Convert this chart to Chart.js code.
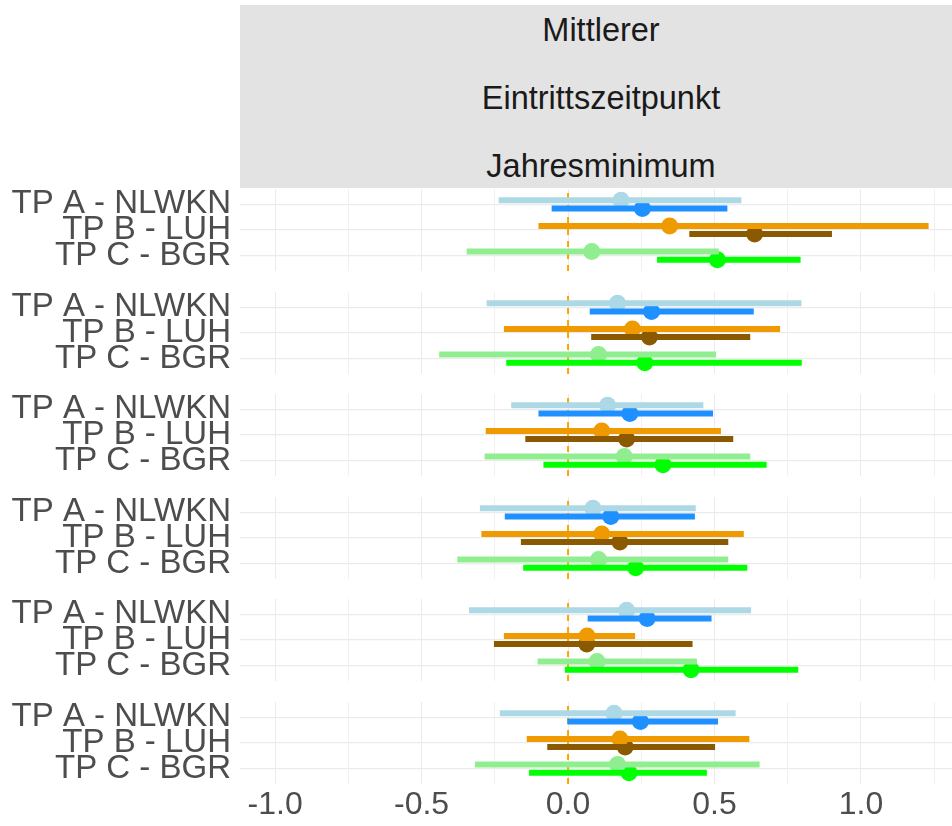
<!DOCTYPE html>
<html>
<head>
<meta charset="utf-8">
<script src="https://cdn.jsdelivr.net/npm/chart.js@4.4.1/dist/chart.umd.min.js"></script>
<style>
  html, body { margin: 0; padding: 0; width: 952px; height: 826px; overflow: hidden; background: #ffffff; }
  #strip { position: absolute; left: 240px; top: 5px; width: 722px; height: 183px; background: #e3e3e3;
           font-family: 'Liberation Sans', Arial, sans-serif; font-size: 32.5px; color: #1a1a1a; }
  .stripLine { position: absolute; left: 0; width: 100%; height: 40px; line-height: 40px; text-align: center; white-space: nowrap; }
  .panel { position: absolute; left: 0; width: 962px; }
</style>
</head>
<body>
<div id="strip"></div>
<script>
// Facet title (three lines)
const stripLines = ['Mittlerer', 'Eintrittszeitpunkt', 'Jahresminimum'];

// Categories on the y axis of every panel
const categories = ['TP A - NLWKN', 'TP B - LUH', 'TP C - BGR'];

// x axis: gridline positions and the labelled ticks
const xGridValues = [-1.0, -0.75, -0.5, -0.25, 0.0, 0.25, 0.5, 0.75, 1.0, 1.25];
const xTickValues = [-1.0, -0.5, 0.0, 0.5, 1.0];
const xTickLabels = ['-1.0', '-0.5', '0.0', '0.5', '1.0'];

// Reference value drawn as a dashed line
const referenceValue = 0;

// Estimates and interval bounds, one value per panel (top to bottom)
// TP A - NLWKN, first series
const estA1  = [0.181, 0.169, 0.135, 0.085, 0.200, 0.157];
const lowA1  = [-0.237, -0.278, -0.194, -0.301, -0.338, -0.233];
const highA1 = [0.592, 0.797, 0.462, 0.436, 0.625, 0.572];
// TP A - NLWKN, second series
const estA2  = [0.254, 0.285, 0.211, 0.146, 0.270, 0.247];
const lowA2  = [-0.056, 0.074, -0.101, -0.216, 0.067, -0.002];
const highA2 = [0.544, 0.634, 0.495, 0.433, 0.490, 0.512];
// TP B - LUH, first series
const estB1  = [0.347, 0.220, 0.115, 0.115, 0.065, 0.177];
const lowB1  = [-0.101, -0.219, -0.281, -0.296, -0.219, -0.141];
const highB1 = [1.231, 0.724, 0.522, 0.600, 0.229, 0.619];
// TP B - LUH, second series
const estB2  = [0.637, 0.278, 0.200, 0.177, 0.064, 0.195];
const lowB2  = [0.414, 0.079, -0.146, -0.161, -0.253, -0.071];
const highB2 = [0.901, 0.622, 0.564, 0.547, 0.425, 0.502];
// TP C - BGR, first series
const estC1  = [0.081, 0.104, 0.192, 0.104, 0.099, 0.169];
const lowC1  = [-0.346, -0.440, -0.285, -0.378, -0.104, -0.318];
const highC1 = [0.515, 0.505, 0.622, 0.547, 0.440, 0.654];
// TP C - BGR, second series
const estC2  = [0.510, 0.262, 0.324, 0.231, 0.420, 0.208];
const lowC2  = [0.304, -0.211, -0.084, -0.153, -0.011, -0.133];
const highC2 = [0.794, 0.798, 0.678, 0.612, 0.786, 0.474];

// Colours: first / second series per category
const firstColors  = ['#add8e6', '#ee9a00', '#90ee90'];
const secondColors = ['#1e90ff', '#8b5a00', '#00ff00'];

// ---- layout ----
const FONT = "'Liberation Sans', Arial, sans-serif";
const X_MIN = -1.12, X_MAX = 1.345;
const Y_MIN = 0.4, Y_MAX = 3.6;          // 3 categories with 0.6 padding
const DODGE = 0.16;                       // vertical offset of the two series
const PANEL_TOP = 189, PANEL_PITCH = 102.6, PANEL_H = 82, AXIS_H = 42;
const Y_AXIS_W = 240;

// strip text
const strip = document.getElementById('strip');
stripLines.forEach((t, i) => {
  const d = document.createElement('div');
  d.className = 'stripLine';
  d.style.top = (4.5 + i * 68) + 'px';
  d.textContent = t;
  strip.appendChild(d);
});

const seriesList = [
  { cat: 0, side: -1, est: estA1, low: lowA1, high: highA1, color: firstColors[0] },
  { cat: 0, side:  1, est: estA2, low: lowA2, high: highA2, color: secondColors[0] },
  { cat: 1, side: -1, est: estB1, low: lowB1, high: highB1, color: firstColors[1] },
  { cat: 1, side:  1, est: estB2, low: lowB2, high: highB2, color: secondColors[1] },
  { cat: 2, side: -1, est: estC1, low: lowC1, high: highC1, color: firstColors[2] },
  { cat: 2, side:  1, est: estC2, low: lowC2, high: highC2, color: secondColors[2] }
];

const nPanels = estA1.length;

for (let p = 0; p < nPanels; p++) {
  const isLast = p === nPanels - 1;
  const h = PANEL_H + (isLast ? AXIS_H : 0);
  const wrap = document.createElement('div');
  wrap.className = 'panel';
  wrap.style.top = (PANEL_TOP + p * PANEL_PITCH) + 'px';
  wrap.style.height = h + 'px';
  const canvas = document.createElement('canvas');
  canvas.width = 962; canvas.height = h;
  canvas.style.width = '962px'; canvas.style.height = h + 'px';
  wrap.appendChild(canvas);
  document.body.appendChild(wrap);

  const datasets = [];
  // dashed reference line
  datasets.push({
    data: [{ x: referenceValue, y: Y_MAX }, { x: referenceValue, y: Y_MIN }],
    showLine: true, borderColor: '#ffa500', borderWidth: 2, borderDash: [6, 6],
    pointRadius: 0, order: 3
  });
  seriesList.forEach(s => {
    const y = s.cat + 1 + s.side * DODGE;
    // interval
    datasets.push({
      data: [{ x: s.low[p], y: y }, { x: s.high[p], y: y }],
      showLine: true, borderColor: s.color, borderWidth: 6, borderCapStyle: 'butt',
      pointRadius: 0, order: 1
    });
    // estimate
    datasets.push({
      data: [{ x: s.est[p], y: y }],
      backgroundColor: s.color, borderWidth: 0, pointRadius: 8.5, pointHoverRadius: 8.5, order: 2
    });
  });

  new Chart(canvas, {
    type: 'scatter',
    data: { datasets },
    options: {
      responsive: false,
      animation: false,
      events: [],
      layout: { padding: 0, autoPadding: false },
      plugins: { legend: { display: false }, tooltip: { enabled: false } },
      scales: {
        x: {
          type: 'linear', min: X_MIN, max: X_MAX,
          afterBuildTicks: sc => { sc.ticks = xGridValues.map(v => ({ value: v })); },
          afterFit: sc => { sc.height = isLast ? AXIS_H : 0; sc.paddingLeft = 0; sc.paddingRight = 0; },
          ticks: {
            display: isLast, autoSkip: false, maxRotation: 0, minRotation: 0, padding: 2,
            color: '#4d4d4d', font: { family: FONT, size: 32 },
            callback: v => {
              const i = xTickValues.findIndex(t => Math.abs(t - v) < 1e-9);
              return i >= 0 ? xTickLabels[i] : '';
            }
          },
          grid: {
            drawTicks: false,
            color: ctx => {
              const v = ctx.tick ? ctx.tick.value : 0;
              return Math.abs(v * 2 - Math.round(v * 2)) < 1e-9 ? '#ebebeb' : '#f0f0f0';
            },
            lineWidth: 1
          },
          border: { display: false }
        },
        y: {
          type: 'linear', min: Y_MIN, max: Y_MAX, reverse: true,
          afterBuildTicks: sc => { sc.ticks = categories.map((c, i) => ({ value: i + 1 })); },
          afterFit: sc => { sc.width = Y_AXIS_W; sc.paddingTop = 0; sc.paddingBottom = 0; },
          ticks: {
            autoSkip: false, padding: 9, color: '#4d4d4d',
            font: { family: FONT, size: 33 },
            callback: v => categories[Math.round(v) - 1] || ''
          },
          grid: { drawTicks: false, color: '#ebebeb', lineWidth: 1.2 },
          border: { display: false }
        }
      }
    }
  });
}
</script>
</body>
</html>
